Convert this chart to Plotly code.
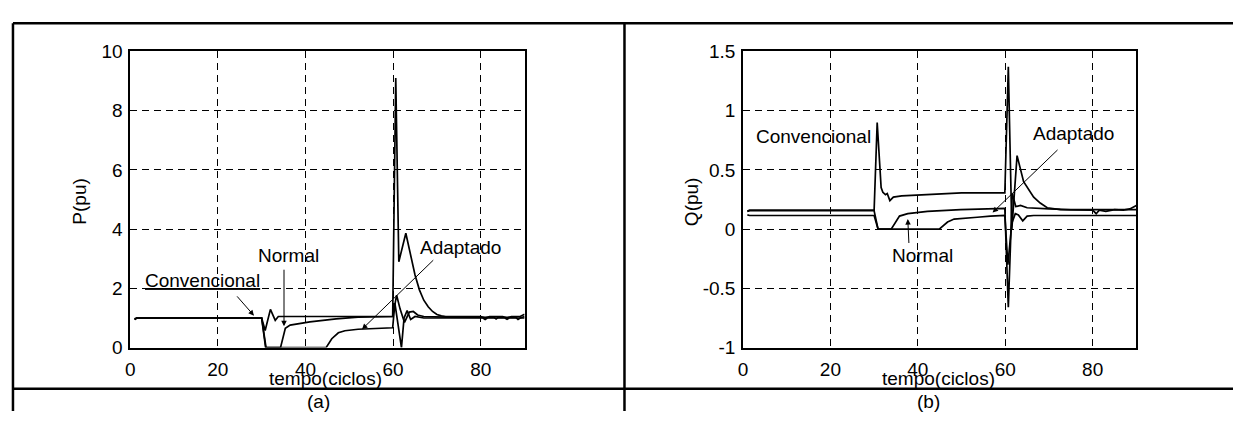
import plotly.graph_objects as go

# ---------------- data ----------------
# Panel (a): active power P (pu) vs time (cycles)
t_p_conv = [1, 1.5, 3, 30, 30.8, 32.0, 33.1, 33.8, 40, 50, 59.9, 60.6, 61.3, 62.9, 64.0, 65.0, 66.0, 67.0,
            68.0, 69.0, 70.0, 71.0, 72.0, 75, 80, 81, 82, 85, 86, 87, 89, 90]
p_conv = [0.95, 1.0, 1.0, 1.0, 0.58, 1.29, 0.92, 1.05, 1.05, 1.05, 1.05, 9.1, 2.9, 3.86, 3.1, 2.45, 1.95, 1.6,
          1.38, 1.22, 1.12, 1.07, 1.05, 1.05, 1.05, 1.0, 1.05, 1.05, 1.0, 1.05, 1.05, 1.13]

t_p_norm = [1, 1.5, 30, 30.9, 34.3, 35.4, 36.5, 41, 47, 52, 59.9, 60.8, 61.6, 62.6, 63.7, 64.6, 65.6, 67,
            72, 80, 83, 83.5, 84, 88, 88.5, 89, 90]
p_norm = [0.97, 1.0, 1.0, 0.0, 0.0, 0.65, 0.76, 0.87, 0.97, 1.03, 1.05, 1.77, 1.3, 0.85, 1.2, 1.22, 1.1, 1.05,
          1.03, 1.02, 1.02, 0.97, 1.02, 1.02, 0.95, 1.0, 1.05]

t_p_adap = [1, 1.5, 30, 31.0, 44.7, 46, 47.5, 49, 52, 56, 59.9, 60.4, 61.9, 62.5, 63.2, 64.0, 65.0, 67,
            75, 80.5, 81, 81.5, 85.5, 86, 86.5, 90]
p_adap = [0.95, 1.0, 1.0, 0.0, 0.0, 0.3, 0.5, 0.57, 0.62, 0.64, 0.67, 1.5, 0.0, 1.0, 1.25, 0.95, 1.05, 1.0,
          1.0, 1.0, 0.95, 1.0, 1.0, 0.96, 1.0, 1.0]

# Panel (b): reactive power Q (pu) vs time (cycles)
t_q_conv = [1, 1.5, 30.0, 30.7, 31.6, 32.0, 32.6, 33.0, 33.6, 34.4, 36.3, 41.6, 50, 59.9, 60.7, 61.5, 62.7,
            64.2, 66.5, 68.0, 69.6, 72.6, 80, 80.8, 81.5, 83, 85, 87, 88.5, 90]
q_conv = [0.15, 0.16, 0.16, 0.9, 0.35, 0.31, 0.29, 0.30, 0.24, 0.27, 0.28, 0.29, 0.305, 0.305, 1.37, 0.0, 0.62,
          0.40, 0.27, 0.22, 0.18, 0.165, 0.16, 0.13, 0.16, 0.15, 0.165, 0.16, 0.17, 0.2]

t_q_norm = [1, 1.5, 30.0, 30.9, 33.9, 35.8, 37.7, 42.2, 49.8, 59.9, 60.7, 61.6, 62.4, 63.5, 65, 67, 70, 75, 80, 90]
q_norm = [0.15, 0.155, 0.155, 0.0, 0.0, 0.11, 0.13, 0.15, 0.165, 0.175, -0.66, 0.3, 0.19, 0.2, 0.18, 0.175,
          0.17, 0.165, 0.165, 0.165]

t_q_adap = [1, 1.5, 30.0, 30.9, 44.9, 46.8, 48.3, 51.3, 53.6, 56.6, 59.9, 60.6, 61.5, 62.3, 63.0, 64.0, 65.0,
            66.5, 90]
q_adap = [0.12, 0.115, 0.115, 0.0, 0.0, 0.06, 0.085, 0.09, 0.1, 0.11, 0.115, -0.3, 0.05, 0.13, 0.12, 0.07,
          0.11, 0.115, 0.115]

x_ticks = [0, 20, 40, 60, 80]
p_ticks = [0, 2, 4, 6, 8, 10]
q_ticks = [-1, -0.5, 0, 0.5, 1, 1.5]
q_tick_text = ["-1", "-0.5", "0", "0.5", "1", "1.5"]

# ---------------- figure ----------------
W, H = 1233, 422
FONT = "Liberation Sans, Arial, sans-serif"
LW = 1.7

def px(x):
    return x / W

def py(y):
    return 1 - y / H

fig = go.Figure()
for t, v, ax in [(t_p_conv, p_conv, 1), (t_p_norm, p_norm, 1), (t_p_adap, p_adap, 1),
                 (t_q_conv, q_conv, 2), (t_q_norm, q_norm, 2), (t_q_adap, q_adap, 2)]:
    fig.add_trace(go.Scatter(x=t, y=v, mode="lines", line=dict(color="black", width=LW),
                             xaxis="x" if ax == 1 else "x2", yaxis="y" if ax == 1 else "y2",
                             showlegend=False, hoverinfo="skip"))

axis_common = dict(showline=True, mirror=True, linecolor="black", linewidth=1.5,
                   showgrid=True, gridcolor="black", gridwidth=1, griddash="7px,5px",
                   zeroline=False, ticks="", tickfont=dict(family=FONT, size=19, color="black"))

ydom = [py(355.3), py(43.5)]
fig.update_layout(
    width=W, height=H, margin=dict(l=0, r=0, t=0, b=0),
    paper_bgcolor="white", plot_bgcolor="white",
    font=dict(family=FONT, size=19, color="black"),
    xaxis=dict(domain=[px(125.7), px(521.7)], range=[0, 90], tickvals=x_ticks,
               anchor="y", ticklabelstandoff=4, **axis_common),
    yaxis=dict(domain=ydom, range=[0, 10], tickvals=p_ticks, anchor="x",
               ticklabelstandoff=2, **axis_common),
    xaxis2=dict(domain=[px(741), px(1136)], range=[0, 90], tickvals=x_ticks,
                anchor="y2", ticklabelstandoff=4, **axis_common),
    yaxis2=dict(domain=ydom, range=[-1, 1.5], tickvals=q_ticks, ticktext=q_tick_text,
                anchor="x2", ticklabelstandoff=2, **axis_common),
)

# table frame lines
lw_frame = 2.5
frame = [
    (px(8), py(14), 1.0, py(14)),
    (px(8), py(14), px(8), 0.0),
    (px(622), py(14), px(622), 0.0),
    (px(8), py(398.5), 1.0, py(398.5)),
]
for x0, y0, x1, y1 in frame:
    fig.add_shape(type="line", xref="paper", yref="paper", x0=x0, y0=y0, x1=x1, y1=y1,
                  line=dict(color="black", width=lw_frame))

tf = dict(family=FONT, size=19, color="black")

def text(xr, yr, x, y, s, angle=0):
    fig.add_annotation(xref=xr, yref=yr, x=x, y=y, text=s, showarrow=False, font=tf,
                       textangle=angle, xanchor="center", yanchor="middle")

def arrow(xr, yr, x0, y0, x1, y1):
    fig.add_annotation(xref=xr, yref=yr, axref=xr, ayref=yr, x=x1, y=y1, ax=x0, ay=y0,
                       text="", showarrow=True, arrowhead=2, arrowsize=1.1, arrowwidth=1,
                       arrowcolor="black")

# axis titles & captions (paper coordinates)
text("paper", "paper", px(75), py(202), "P(pu)", -90)
text("paper", "paper", px(690), py(202), "Q(pu)", -90)
text("paper", "paper", px(322), py(388), "tempo(ciclos)")
text("paper", "paper", px(937), py(388), "tempo(ciclos)")
text("paper", "paper", px(315), py(412.5), "(a)")
text("paper", "paper", px(927.5), py(412.5), "(b)")

# panel (a) labels
text("x", "y", 16.4, 2.25, "<u>Convencional</u>")
arrow("x", "y", 24.1, 1.78, 28.25, 1.08)
text("x", "y", 36.1, 3.11, "Normal")
arrow("x", "y", 35.1, 2.68, 35.1, 0.72)
text("x", "y", 75.4, 3.37, "Adaptado")
arrow("x", "y", 69.5, 3.0, 52.9, 0.62)

# panel (b) labels
text("x2", "y2", 16.1, 0.78, "Convencional")
text("x2", "y2", 75.5, 0.805, "Adaptado")
arrow("x2", "y2", 72.3, 0.68, 57.1, 0.14)
text("x2", "y2", 41.0, -0.22, "Normal")
arrow("x2", "y2", 37.97, -0.13, 37.7, 0.085)

fig.write_html("out.html")
